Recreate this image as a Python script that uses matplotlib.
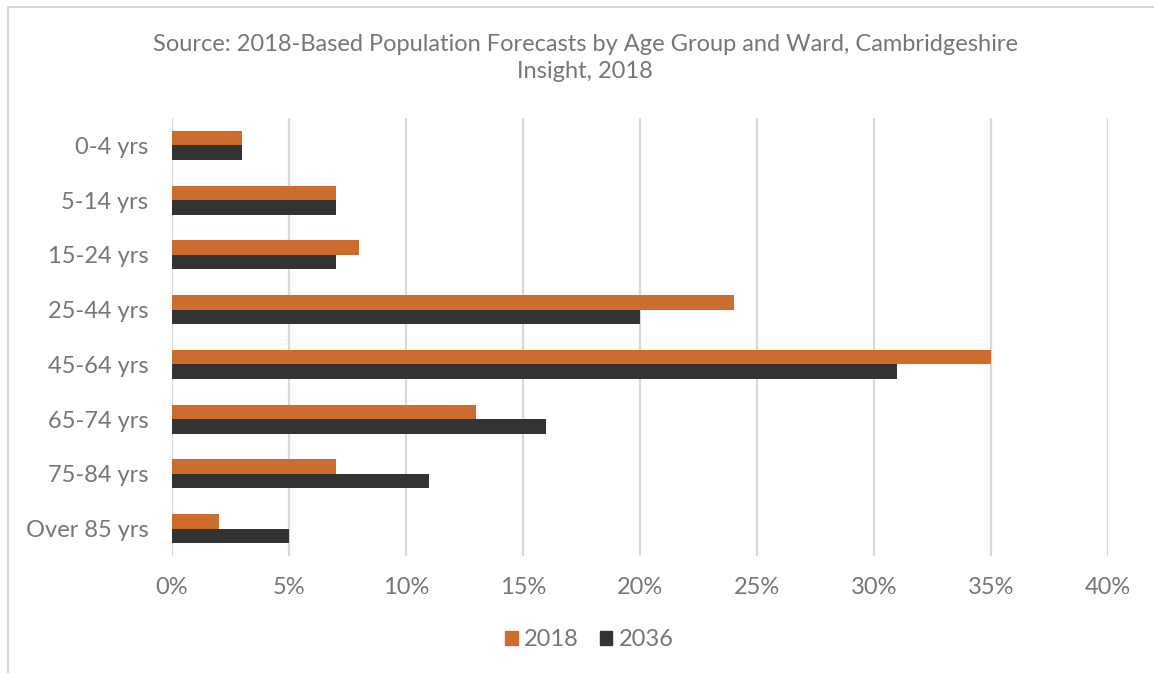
import matplotlib
matplotlib.use("Agg")
from matplotlib import pyplot as plt
from matplotlib.lines import Line2D
from matplotlib.patches import Patch
import numpy as np

# -------------------- Data --------------------
age_groups = ["0-4 yrs", "5-14 yrs", "15-24 yrs", "25-44 yrs",
              "45-64 yrs", "65-74 yrs", "75-84 yrs", "Over 85 yrs"]
share_2018 = [3, 7, 8, 24, 35, 13, 7, 2]
share_2036 = [3, 7, 7, 20, 31, 16, 11, 5]
x_ticks = [0, 5, 10, 15, 20, 25, 30, 35, 40]
x_tick_labels = ["0%", "5%", "10%", "15%", "20%", "25%", "30%", "35%", "40%"]
series_names = ["2018", "2036"]

title = ("Source: 2018-Based Population Forecasts by Age Group and Ward, Cambridgeshire\n"
         "Insight, 2018")

# -------------------- Style --------------------
plt.rcParams["font.family"] = ["Lato", "DejaVu Sans"]
text_col = "#767676"
orange = "#CC6D2D"
dark = "#333333"
grid_col = "#D9D9D9"

fig = plt.figure(figsize=(11.54, 6.73), dpi=100)
W, H = 1154, 673
ax = fig.add_axes([172 / W, 1 - 556 / H, (1108 - 172) / W, (556 - 118) / H])

y = np.arange(len(age_groups))
h = 0.265
ax.barh(y - h / 2, share_2018, height=h, color=orange, label=series_names[0], zorder=3)
ax.barh(y + h / 2, share_2036, height=h, color=dark, label=series_names[1], zorder=3)

ax.set_ylim(len(age_groups) - 0.5, -0.5)
ax.set_xlim(0, 40)
ax.set_yticks(y)
ax.set_yticklabels(age_groups)
ax.set_xticks(x_ticks)
ax.set_xticklabels(x_tick_labels)
ax.tick_params(axis="both", length=0, labelsize=17, colors=text_col)
ax.tick_params(axis="x", pad=15)
ax.tick_params(axis="y", pad=17)
for s in ax.spines.values():
    s.set_visible(False)
ax.grid(axis="x", color=grid_col, linewidth=1.6, zorder=0)

fig.text(585 / W, 1 - 58 / H, title, ha="center", va="center", fontsize=17,
         color=text_col, linespacing=1.3)

handles = [Patch(color=orange), Patch(color=dark)]
fig.legend(handles, series_names, loc="center", bbox_to_anchor=(589 / W, 1 - 640 / H),
           ncol=2, frameon=False, fontsize=17, labelcolor=text_col,
           handlelength=0.55, handleheight=0.55, handletextpad=0.25, columnspacing=0.9)

# chart border (top and left visible)
fig.add_artist(Line2D([7.5 / W, 7.5 / W], [0, 1 - 6.5 / H], transform=fig.transFigure,
                      color=grid_col, linewidth=1.5))
fig.add_artist(Line2D([7.5 / W, 1], [1 - 6.5 / H, 1 - 6.5 / H], transform=fig.transFigure,
                      color=grid_col, linewidth=1.5))

fig.savefig("out.png", dpi=100)
